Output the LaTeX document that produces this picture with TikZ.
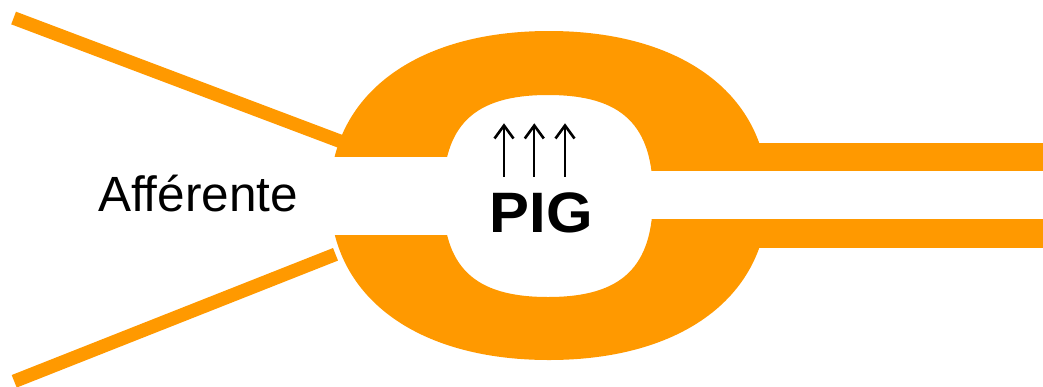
\documentclass[tikz,border=0pt]{standalone}
\usepackage{fontspec}
\setmainfont{Liberation Sans}
\definecolor{ringorange}{HTML}{FF9900}
\tikzset{
  fibre/.style={draw=ringorange, line width=13.5pt, line cap=butt},
  ringfill/.style={fill=ringorange, even odd rule},
  gapfill/.style={fill=white},
  barfill/.style={fill=ringorange},
  stem/.style={draw=black, line width=2.3pt},
  chevron/.style={draw=black, line width=2.6pt, line join=miter, miter limit=10},
  label/.style={inner sep=0pt, anchor=base, text=black},
}
\begin{document}
\begin{tikzpicture}[x=1pt,y=-1pt]
\clip (0,0) rectangle (1043,386);
\fill[white] (0,0) rectangle (1043,386);

% incoming fibres
\coordinate (upA) at (13.6,18);
\coordinate (upB) at (350,145);
\coordinate (loA) at (14.2,381.3);
\coordinate (loB) at (335.5,254.3);
\draw[fibre] (upA) -- (upB);
\draw[fibre] (loA) -- (loB);

% glomerular ring: squarish outer and inner ovals
\fill[ringfill]
  (768,195.5) .. controls (768,295.8) and (682.6,360) .. (549,360)
              .. controls (415.4,360) and (330,295.8) .. (330,195.5)
              .. controls (330,95.2) and (415.4,31) .. (549,31)
              .. controls (682.6,31) and (768,95.2) .. (768,195.5) -- cycle
  (653,196) .. controls (653,266.7) and (622.5,297) .. (548,297)
            .. controls (473.5,297) and (443,266.7) .. (443,196)
            .. controls (443,125.3) and (473.5,95) .. (548,95)
            .. controls (622.5,95) and (653,125.3) .. (653,196) -- cycle;

% openings through the ring
\fill[gapfill] (320,156.5) rectangle (500,235);
\fill[gapfill] (600,171) rectangle (1043,219.3);

% outgoing bars
\fill[barfill] (652,142.7) rectangle (1043,171);
\fill[barfill] (652,219.3) rectangle (1043,247.7);

% labels
\node[label, font=\fontsize{49.5}{50}\selectfont] (aff) at (198,211.7) {Afférente};
\node[label, font=\bfseries\fontsize{57}{57}\selectfont] (pig) at (541.3,232.7) {\scalebox{1.05}[1]{PIG}};

% rising-pressure arrows: stem plus open chevron head
\foreach \n/\x in {1/504, 2/534.3, 3/565} {
  \coordinate (a\n s) at (\x,176.7);
  \coordinate (a\n e) at (\x,125.5);
  \draw[stem] (a\n s) -- (a\n e);
  \draw[chevron] ([xshift=-9.5pt,yshift=-13pt]a\n e) -- (a\n e)
                 -- ([xshift=9.5pt,yshift=-13pt]a\n e);
}
\end{tikzpicture}
\end{document}
